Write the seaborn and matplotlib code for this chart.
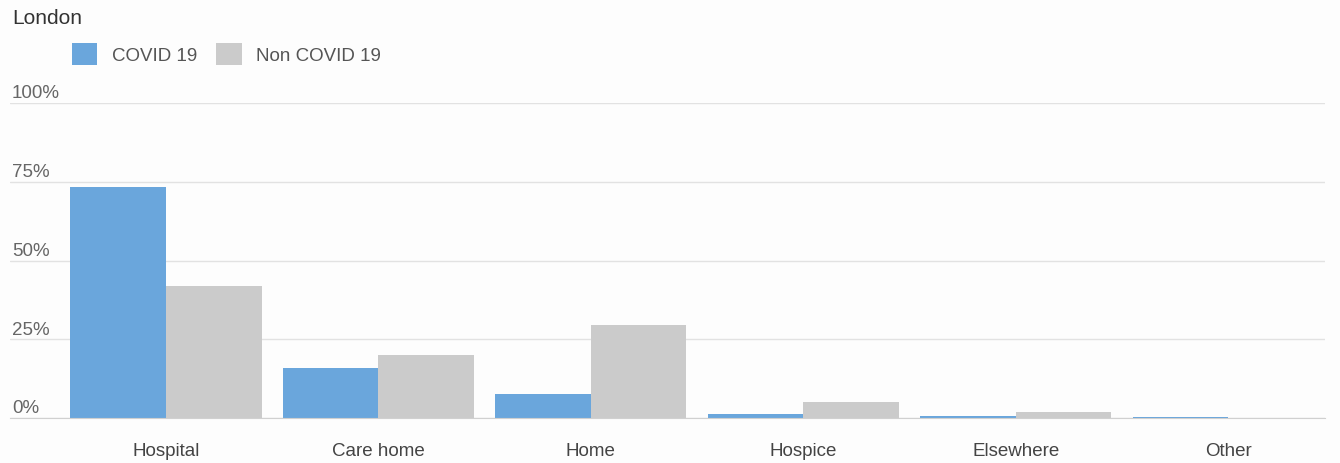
import pandas as pd
import matplotlib.pyplot as plt
import seaborn as sns
from matplotlib.transforms import blended_transform_factory

# === Data ===
places = ["Hospital", "Care home", "Home", "Hospice", "Elsewhere", "Other"]
covid = [73.3, 15.9, 7.6, 1.3, 0.5, 0.2]
non_covid = [41.9, 20.0, 29.5, 5.1, 1.9, 0.1]
series = ["COVID 19", "Non COVID 19"]
y_ticks = [0, 25, 50, 75, 100]
y_labels = ["0%", "25%", "50%", "75%", "100%"]

df = pd.DataFrame({
    "place": places * 2,
    "share": covid + non_covid,
    "type": [series[0]] * len(places) + [series[1]] * len(places),
})

# === Style ===
sns.set_style("white")
plt.rcParams["font.family"] = ["Liberation Sans", "DejaVu Sans"]
bg = "#fdfdfd"

fig = plt.figure(figsize=(13.4, 4.64), dpi=100, facecolor=bg)
W, H = 1340, 464
ax = fig.add_axes([10 / W, 1 - 419 / H, 1315 / W, 315 / H])
ax.set_facecolor(bg)

sns.barplot(data=df, x="place", y="share", hue="type", order=places,
            hue_order=series, palette=["#6aa6dc", "#cbcbcb"], width=0.9,
            saturation=1, linewidth=0, ax=ax)

ax.set_ylim(0, 100)
ax.set_xlim(-0.734, 5.456)
ax.set_yticks(y_ticks)
ax.set_yticklabels([])
ax.tick_params(axis="y", length=0)
ax.tick_params(axis="x", length=0, pad=17, labelsize=13.5, labelcolor="#444444")
ax.grid(axis="y", color="#e2e2e2", linewidth=1)
ax.set_axisbelow(True)
for s in ["top", "left", "right"]:
    ax.spines[s].set_visible(False)
ax.spines["bottom"].set_color("#d0d0d0")
ax.set_xlabel("")
ax.set_ylabel("")

# y labels sit above the gridlines, inside the plot
tr = blended_transform_factory(ax.transAxes, ax.transData)
for v, lab in zip(y_ticks, y_labels):
    ax.text(2 / 1315, v + 0.5, lab, transform=tr, ha="left", va="bottom",
            fontsize=13.5, color="#666666")

# legend
handles, labels = ax.get_legend_handles_labels()
ax.legend(handles, labels, loc="center left", bbox_to_anchor=(55 / W, 1 - 55 / H),
          bbox_transform=fig.transFigure, ncol=2, frameon=False,
          handlelength=1.35, handleheight=1.35, handletextpad=0.8,
          columnspacing=1.0, fontsize=13.5, labelcolor="#555555")

fig.text(12 / W, 1 - 18 / H, "London", ha="left", va="center",
         fontsize=15, color="#333333")

plt.savefig("out.png", dpi=100, facecolor=bg)
